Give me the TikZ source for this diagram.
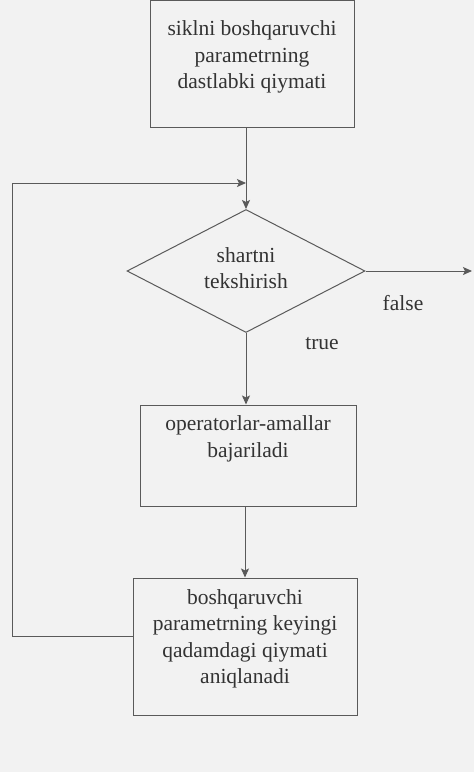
\documentclass[tikz,border=0pt]{standalone}
\usepackage{fontspec}
\setmainfont{Liberation Serif}
\usetikzlibrary{shapes.geometric,arrows.meta}
\definecolor{inkline}{HTML}{5A5A5A}
\definecolor{inktext}{HTML}{333333}
\definecolor{paper}{HTML}{F2F2F2}
\begin{document}
\begin{tikzpicture}[x=1pt,y=-1pt,
  every node/.style={text=inktext,font=\fontsize{21.5}{26.5}\selectfont},
  flowbox/.style={draw=inkline,line width=1pt,rectangle,inner sep=0pt},
  txt/.style={align=center,inner sep=0pt},
  link/.style={draw=inkline,line width=1pt},
  tip/.style={-{Stealth[length=9pt,width=8pt,inset=2pt]}}]
  \fill[paper] (0,0) rectangle (474,772);
  \useasboundingbox (0,0) rectangle (474,772);

  % initial value of the loop parameter
  \node[flowbox,minimum width=204pt,minimum height=127pt] (init) at (252,64) {};
  \node[txt] (initt) at (252,57) {siklni boshqaruvchi\\parametrning\\dastlabki qiymati};

  % condition test
  \node[draw=inkline,line width=1pt,diamond,aspect=1.93,minimum width=238pt,
        minimum height=123pt,inner sep=0pt] (cond) at (246,271) {};
  \node[txt] (condt) at (246,268) {shartni\\tekshirish};

  % loop body
  \node[flowbox,minimum width=216pt,minimum height=101pt] (body) at (248,455.5) {};
  \node[txt] (bodyt) at (248,439) {operatorlar-amallar\\bajariladi};

  % next value of the loop parameter
  \node[flowbox,minimum width=224pt,minimum height=137pt] (step) at (245,646.5) {};
  \node[txt] (stept) at (245,639) {boshqaruvchi\\parametrning keyingi\\qadamdagi qiymati\\aniqlanadi};

  % branch labels
  \node[txt] (lfalse) at (403,303) {false};
  \node[txt] (ltrue) at (322,344) {true};

  \coordinate (join) at (246,183);
  \coordinate (exit) at (472,271);
  \coordinate (back) at (12,636);

  \draw[link,tip] (cond.north |- init.south) -- (cond.north);
  \draw[link,tip] (cond.east) -- (exit);
  \draw[link,tip] (cond.south) -- (cond.south |- body.north);
  \draw[link,tip] (body.south -| step.north) -- (step.north);
  \draw[link,tip] (step.west |- back) -- (back) -- (back |- join) -- (join);
\end{tikzpicture}
\end{document}
